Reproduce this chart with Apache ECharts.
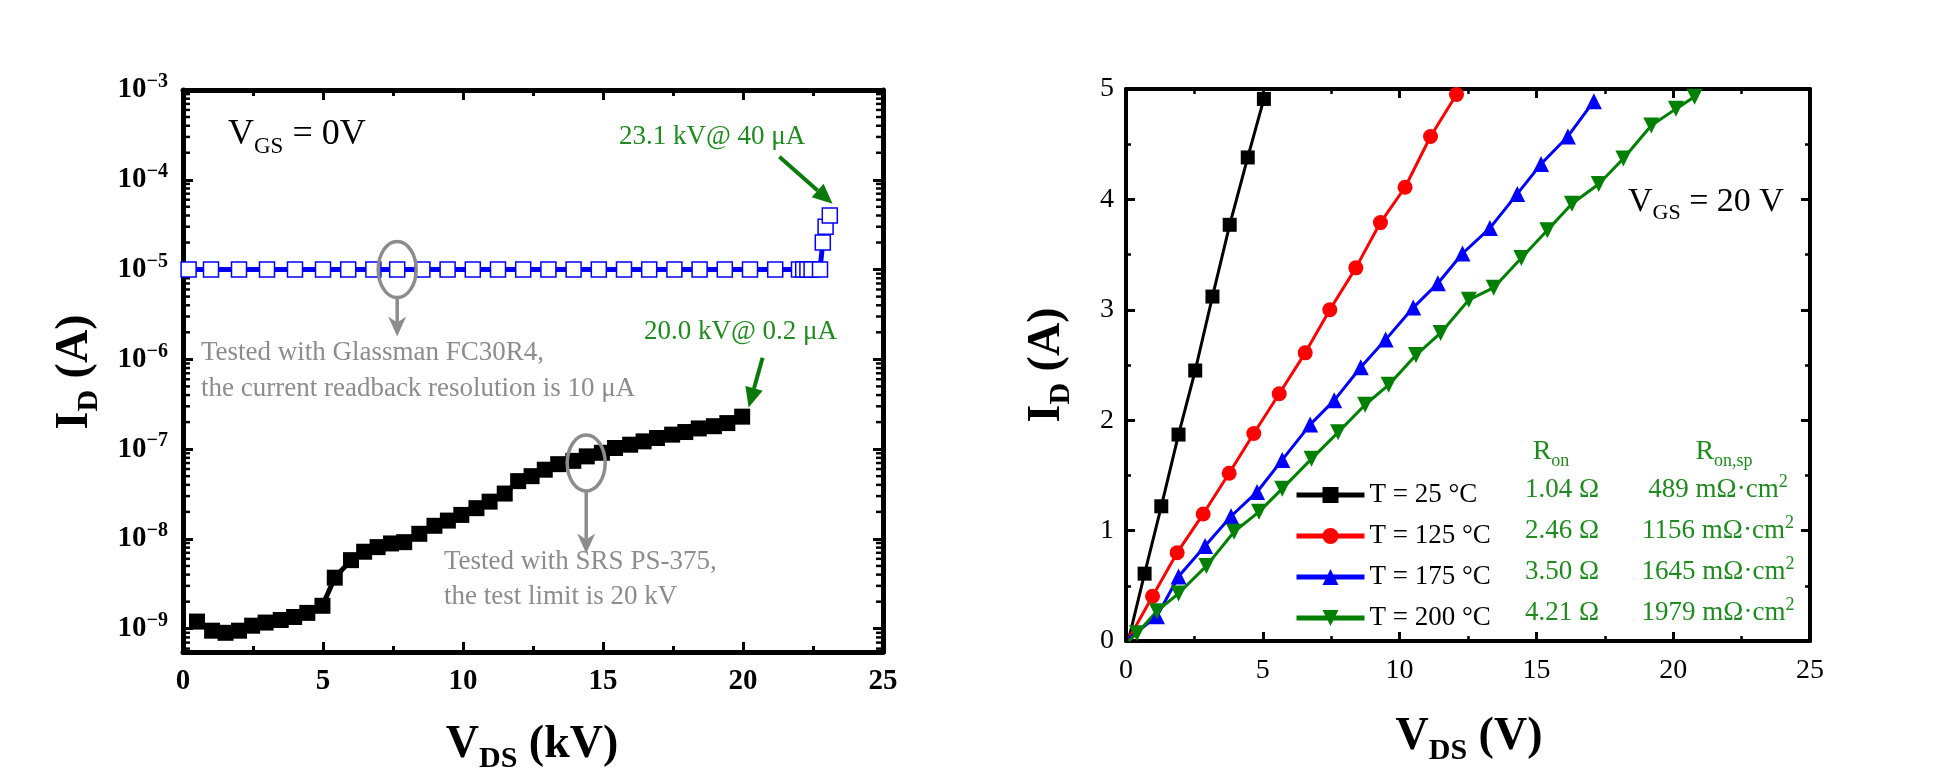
<!DOCTYPE html>
<html>
<head>
<meta charset="utf-8">
<script src="https://cdn.jsdelivr.net/npm/echarts@6/dist/echarts.min.js"></script>
<style>
html, body { margin: 0; padding: 0; background: #fff; }
#main { width: 1949px; height: 782px; }
</style>
</head>
<body>
<div id="main"></div>
<script>
// ---- left panel: blocking characteristics (VGS = 0 V) ----
var blueV = [0.2, 1, 2, 3, 4, 5, 5.9, 6.8, 7.65, 8.55, 9.45, 10.35, 11.25, 12.15, 13.05, 13.95,
	14.85, 15.75, 16.65, 17.55, 18.45, 19.35, 20.25, 21.15, 22.0, 22.15, 22.3, 22.45, 22.75,
	22.85, 22.95, 23.1];
var blueI = [1e-5, 1e-5, 1e-5, 1e-5, 1e-5, 1e-5, 1e-5, 1e-5, 1e-5, 1e-5, 1e-5, 1e-5, 1e-5, 1e-5,
	1e-5, 1e-5, 1e-5, 1e-5, 1e-5, 1e-5, 1e-5, 1e-5, 1e-5, 1e-5, 1e-5, 1e-5, 1e-5, 1e-5, 1e-5,
	2e-5, 3e-5, 4e-5];

var blackV = [0.5, 1.04, 1.52, 2.0, 2.47, 2.95, 3.49, 3.97, 4.44, 4.98, 5.42, 6.0, 6.47, 6.95,
	7.43, 7.9, 8.44, 8.98, 9.46, 9.94, 10.48, 10.95, 11.49, 11.97, 12.45, 12.92, 13.4, 13.94,
	14.42, 14.96, 15.43, 15.97, 16.45, 16.93, 17.47, 17.94, 18.42, 18.96, 19.44, 19.97];
var blackI = [1.2e-9, 0.95e-9, 0.9e-9, 0.95e-9, 1.08e-9, 1.17e-9, 1.25e-9, 1.35e-9, 1.5e-9, 1.8e-9,
	3.7e-9, 5.8e-9, 7.2e-9, 8.1e-9, 8.9e-9, 9.2e-9, 1.14e-8, 1.4e-8, 1.6e-8, 1.85e-8,
	2.2e-8, 2.6e-8, 3.2e-8, 4.4e-8, 5.0e-8, 5.9e-8, 6.8e-8, 7.4e-8, 8.3e-8, 9.1e-8,
	1.03e-7, 1.12e-7, 1.22e-7, 1.33e-7, 1.45e-7, 1.55e-7, 1.7e-7, 1.8e-7, 1.95e-7, 2.3e-7];

// ---- right panel: output characteristics (VGS = 20 V) ----
var t25V = [0.1, 0.68, 1.29, 1.92, 2.53, 3.16, 3.79, 4.45, 5.04];
var t25I = [0.02, 0.61, 1.22, 1.87, 2.45, 3.12, 3.77, 4.38, 4.91];
var t125V = [0.1, 0.97, 1.87, 2.82, 3.77, 4.67, 5.6, 6.55, 7.45, 8.4, 9.3, 10.2, 11.13, 12.08];
var t125I = [0.02, 0.405, 0.8, 1.15, 1.52, 1.88, 2.24, 2.61, 3.0, 3.38, 3.79, 4.11, 4.57, 4.95];
var t175V = [0.1, 1.13, 1.92, 2.89, 3.84, 4.79, 5.71, 6.73, 7.61, 8.58, 9.49, 10.5, 11.4, 12.3,
	13.3, 14.3, 15.17, 16.15, 17.1];
var t175I = [0.02, 0.225, 0.585, 0.86, 1.13, 1.35, 1.64, 1.96, 2.18, 2.48, 2.73, 3.02, 3.24, 3.51,
	3.74, 4.05, 4.32, 4.57, 4.89];
var t200V = [0.1, 0.4, 1.13, 1.92, 2.94, 3.95, 4.86, 5.71, 6.78, 7.75, 8.74, 9.6, 10.6, 11.5,
	12.53, 13.44, 14.45, 15.4, 16.3, 17.28, 18.18, 19.2, 20.1, 20.78];
var t200I = [0.0, 0.07, 0.27, 0.43, 0.68, 0.99, 1.17, 1.38, 1.65, 1.89, 2.14, 2.32, 2.59, 2.79,
	3.09, 3.2, 3.47, 3.72, 3.96, 4.14, 4.37, 4.67, 4.82, 4.93];

var tempNames = ['T = 25 \u00b0C', 'T = 125 \u00b0C', 'T = 175 \u00b0C', 'T = 200 \u00b0C'];
var ronText = ['1.04 \u03a9', '2.46 \u03a9', '3.50 \u03a9', '4.21 \u03a9'];
var ronspText = ['489', '1156', '1645', '1979'];

var xTicks = [0, 25, 5];          // min, max, interval (both panels)
var leftY = [5.5e-10, 1e-3];      // log axis range
var rightY = [0, 5, 1];

var serif = "'Liberation Serif', 'Times New Roman', serif";
var green = '#1f8a1f';
var gray = '#8c8c8c';

function zip(xs, ys, skipFirst) {
	return xs.map(function (x, i) {
		if (skipFirst && i === 0) {
			return { value: [x, ys[i]], symbol: 'none' };
		}
		return [x, ys[i]];
	});
}

function powLabel(v) {
	var l = Math.log10(v);
	var e = Math.round(l);
	if (Math.abs(l - e) > 1e-6) return '';
	return '{b|10}{s|\u2212' + (-e) + '}';
}

var chart = echarts.init(document.getElementById('main'));

var axisLineL = { show: true, onZero: false, lineStyle: { color: '#000', width: 5 } };
var axisLineR = { show: true, onZero: false, lineStyle: { color: '#000', width: 4 } };
var tickL = { show: true, inside: true, length: 10, lineStyle: { color: '#000', width: 3 } };
var tickR = { show: true, inside: true, length: 9, lineStyle: { color: '#000', width: 3 } };
var minorL = { show: true, splitNumber: 2, length: 6, lineStyle: { color: '#000', width: 3 } };
var minorR = { show: true, splitNumber: 2, length: 5, lineStyle: { color: '#000', width: 2.5 } };

function xAxis(grid, pos, showLabel, left) {
	return {
		type: 'value', gridIndex: grid, position: pos,
		min: xTicks[0], max: xTicks[1], interval: xTicks[2],
		axisLine: left ? axisLineL : axisLineR,
		axisTick: left ? tickL : tickR,
		minorTick: left ? minorL : minorR,
		splitLine: { show: false },
		axisLabel: {
			show: showLabel, margin: left ? 15 : 16, color: '#000',
			fontFamily: serif, fontSize: left ? 29 : 28, fontWeight: left ? 'bold' : 'normal'
		}
	};
}

function logAxis(pos, showLabel) {
	return {
		type: 'log', logBase: 10, gridIndex: 0, position: pos,
		min: leftY[0], max: leftY[1],
		axisLine: axisLineL,
		axisTick: tickL,
		minorTick: { show: false },
		splitLine: { show: false },
		axisLabel: {
			show: showLabel, margin: 15, formatter: powLabel,
			rich: {
				b: { fontFamily: serif, fontSize: 29, fontWeight: 'bold', color: '#000', lineHeight: 29 },
				s: { fontFamily: serif, fontSize: 20, fontWeight: 'bold', color: '#000', lineHeight: 20,
					padding: [0, 0, 16, 0] }
			}
		}
	};
}

function linAxis(pos, showLabel) {
	return {
		type: 'value', gridIndex: 1, position: pos,
		min: rightY[0], max: rightY[1], interval: rightY[2],
		axisLine: axisLineR,
		axisTick: tickR,
		minorTick: minorR,
		splitLine: { show: false },
		axisLabel: { show: showLabel, margin: 12, color: '#000', fontFamily: serif, fontSize: 28 }
	};
}

function rightSeries(name, xs, ys, color, symbol, size, rotate) {
	return {
		name: name, type: 'line', xAxisIndex: 2, yAxisIndex: 2,
		data: zip(xs, ys, true),
		symbol: symbol, symbolSize: size, symbolRotate: rotate || 0,
		showAllSymbol: true,
		itemStyle: { color: color },
		lineStyle: { color: color, width: 3 },
		z: 3
	};
}

chart.setOption({
	animation: false,
	backgroundColor: '#fff',
	grid: [
		{ left: 183, top: 90, width: 700, height: 562 },
		{ left: 1126, top: 89, width: 684, height: 552 }
	],
	xAxis: [
		xAxis(0, 'bottom', true, true),
		xAxis(0, 'top', false, true),
		xAxis(1, 'bottom', true, false),
		xAxis(1, 'top', false, false)
	],
	yAxis: [
		logAxis('left', true),
		logAxis('right', false),
		linAxis('left', true),
		linAxis('right', false)
	],
	legend: {
		data: tempNames,
		orient: 'vertical',
		left: 1289, top: 476,
		itemWidth: 68, itemHeight: 20, itemGap: 13,
		selectedMode: false,
		lineStyle: { width: 5 },
		textStyle: { fontFamily: serif, fontSize: 27, lineHeight: 28, color: '#000' }
	},
	series: [
		{
			name: 'blue', type: 'line', xAxisIndex: 0, yAxisIndex: 0,
			data: zip(blueV, blueI),
			symbol: 'rect', symbolSize: 15, showAllSymbol: true,
			itemStyle: { color: '#fff', borderColor: '#0000ff', borderWidth: 1.5 },
			lineStyle: { color: '#0000ff', width: 5 },
			z: 3
		},
		{
			name: 'black', type: 'line', xAxisIndex: 0, yAxisIndex: 0,
			data: zip(blackV, blackI),
			symbol: 'rect', symbolSize: 16, showAllSymbol: true,
			itemStyle: { color: '#000' },
			lineStyle: { color: '#000', width: 5 },
			z: 3
		},
		rightSeries(tempNames[0], t25V, t25I, '#000000', 'rect', 14),
		rightSeries(tempNames[1], t125V, t125I, '#ff0000', 'circle', 15),
		rightSeries(tempNames[2], t175V, t175I, '#0000ff', 'triangle', 16),
		rightSeries(tempNames[3], t200V, t200I, '#008000', 'triangle', 16, 180)
	]
});

// ---- annotations, placed through the axes ----
function P(x, y) { return chart.convertToPixel({ xAxisIndex: 0, yAxisIndex: 0 }, [x, y]); }

function arrow(p1, p2, color, w, headL, headW, notch) {
	var dx = p2[0] - p1[0], dy = p2[1] - p1[1];
	var len = Math.sqrt(dx * dx + dy * dy);
	var ux = dx / len, uy = dy / len;
	var bx = p2[0] - ux * headL, by = p2[1] - uy * headL;
	var nx = p2[0] - ux * headL * (notch ? 0.7 : 1), ny = p2[1] - uy * headL * (notch ? 0.7 : 1);
	return [
		{ type: 'line', z: 100, shape: { x1: p1[0], y1: p1[1], x2: nx, y2: ny },
			style: { stroke: color, lineWidth: w } },
		{ type: 'polygon', z: 100, shape: { points: [
			[p2[0], p2[1]],
			[bx - uy * headW / 2, by + ux * headW / 2],
			[nx, ny],
			[bx + uy * headW / 2, by - ux * headW / 2]
		] }, style: { fill: color } }
	];
}

function txt(x, y, text, opts) {
	opts = opts || {};
	return {
		type: 'text', x: x, y: y, z: 100, rotation: opts.rotation || 0,
		style: {
			text: text, fill: opts.color || '#000', fontFamily: serif,
			fontSize: opts.size || 27, fontWeight: opts.bold ? 'bold' : 'normal',
			align: opts.align || 'left', verticalAlign: 'middle', rich: opts.rich
		}
	};
}

function subRich(main, sub, bold, color, drop) {
	return {
		m: { fontFamily: serif, fontSize: main, lineHeight: main, fontWeight: bold ? 'bold' : 'normal', fill: color },
		d: { fontFamily: serif, fontSize: sub, lineHeight: sub, fontWeight: bold ? 'bold' : 'normal', fill: color,
			padding: [drop, 0, 0, 0] },
		u: { fontFamily: serif, fontSize: sub, lineHeight: sub, fill: color, padding: [0, 0, drop, 0] }
	};
}

var g = [];
var e1 = P(7.65, 1e-5), e2 = P(14.4, 7e-8);
[e1, e2].forEach(function (c) {
	g.push({ type: 'ellipse', z: 100, shape: { cx: c[0], cy: c[1], rx: 19, ry: 28 },
		style: { fill: 'none', stroke: gray, lineWidth: 3.5 } });
});
g = g.concat(arrow([e1[0], e1[1] + 28], P(7.65, 1.8e-6), gray, 3.5, 20, 18, true));
g = g.concat(arrow([e2[0], e2[1] + 28], P(14.4, 6.9e-9), gray, 3.5, 20, 18, true));
g = g.concat(arrow(P(21.3, 1.8e-4), P(23.2, 5.4e-5), '#0b7a0b', 4, 20, 18, false));
g = g.concat(arrow(P(20.7, 1.04e-6), P(20.2, 2.9e-7), '#0b7a0b', 4, 20, 18, false));

// log minor ticks (2..9 in each decade) on both sides of the left panel
var xl = P(0, 1e-5)[0], xr = P(25, 1e-5)[0];
for (var n = -10; n <= -4; n++) {
	for (var k = 2; k <= 9; k++) {
		var v = k * Math.pow(10, n);
		if (v <= leftY[0] || v >= leftY[1]) continue;
		var yy = P(0, v)[1];
		g.push({ type: 'line', shape: { x1: xl, y1: yy, x2: xl + 7, y2: yy }, style: { stroke: '#000', lineWidth: 2.5 } });
		g.push({ type: 'line', shape: { x1: xr - 7, y1: yy, x2: xr, y2: yy }, style: { stroke: '#000', lineWidth: 2.5 } });
	}
}

// left panel texts
g.push(txt(228, 135, '{m|V}{d|GS}{m| = 0V}', { rich: subRich(36, 23, false, '#000', 24) }));
g.push(txt(619, 137, '23.1 kV@ 40 \u03bcA', { color: green }));
g.push(txt(644, 332, '20.0 kV@ 0.2 \u03bcA', { color: green }));
g.push(txt(201, 353, 'Tested with Glassman FC30R4,', { color: gray }));
g.push(txt(201, 389, 'the current readback resolution is 10 \u03bcA', { color: gray }));
g.push(txt(444, 562, 'Tested with SRS PS-375,', { color: gray }));
g.push(txt(444, 597, 'the test limit is 20 kV', { color: gray }));
g.push(txt(75, 372, '{m|I}{d|D}{m| (A)}', { align: 'center', rotation: Math.PI / 2, rich: subRich(46, 30, true, '#000', 28) }));
g.push(txt(532, 745, '{m|V}{d|DS}{m| (kV)}', { align: 'center', rich: subRich(46, 30, true, '#000', 28) }));

// right panel texts
g.push(txt(1628, 202, '{m|V}{d|GS}{m| = 20 V}', { rich: subRich(34, 22, false, '#000', 22) }));
g.push(txt(1047, 365, '{m|I}{d|D}{m| (A)}', { align: 'center', rotation: Math.PI / 2, rich: subRich(46, 30, true, '#000', 28) }));
g.push(txt(1469, 737, '{m|V}{d|DS}{m| (V)}', { align: 'center', rich: subRich(46, 30, true, '#000', 28) }));
g.push(txt(1551, 452, '{m|R}{d|on}', { align: 'center', rich: subRich(28, 18, false, green, 18) }));
g.push(txt(1724, 452, '{m|R}{d|on,sp}', { align: 'center', rich: subRich(28, 18, false, green, 18) }));
var rowY = [490, 531, 572, 613];
rowY.forEach(function (y, i) {
	g.push(txt(1562, y, ronText[i], { color: green, align: 'center' }));
	g.push(txt(1718, y, '{m|' + ronspText[i] + ' m\u03a9\u00b7cm}{u|2}', { align: 'center', rich: subRich(27, 18, false, green, 16) }));
});

chart.setOption({ graphic: g });
</script>
</body>
</html>
